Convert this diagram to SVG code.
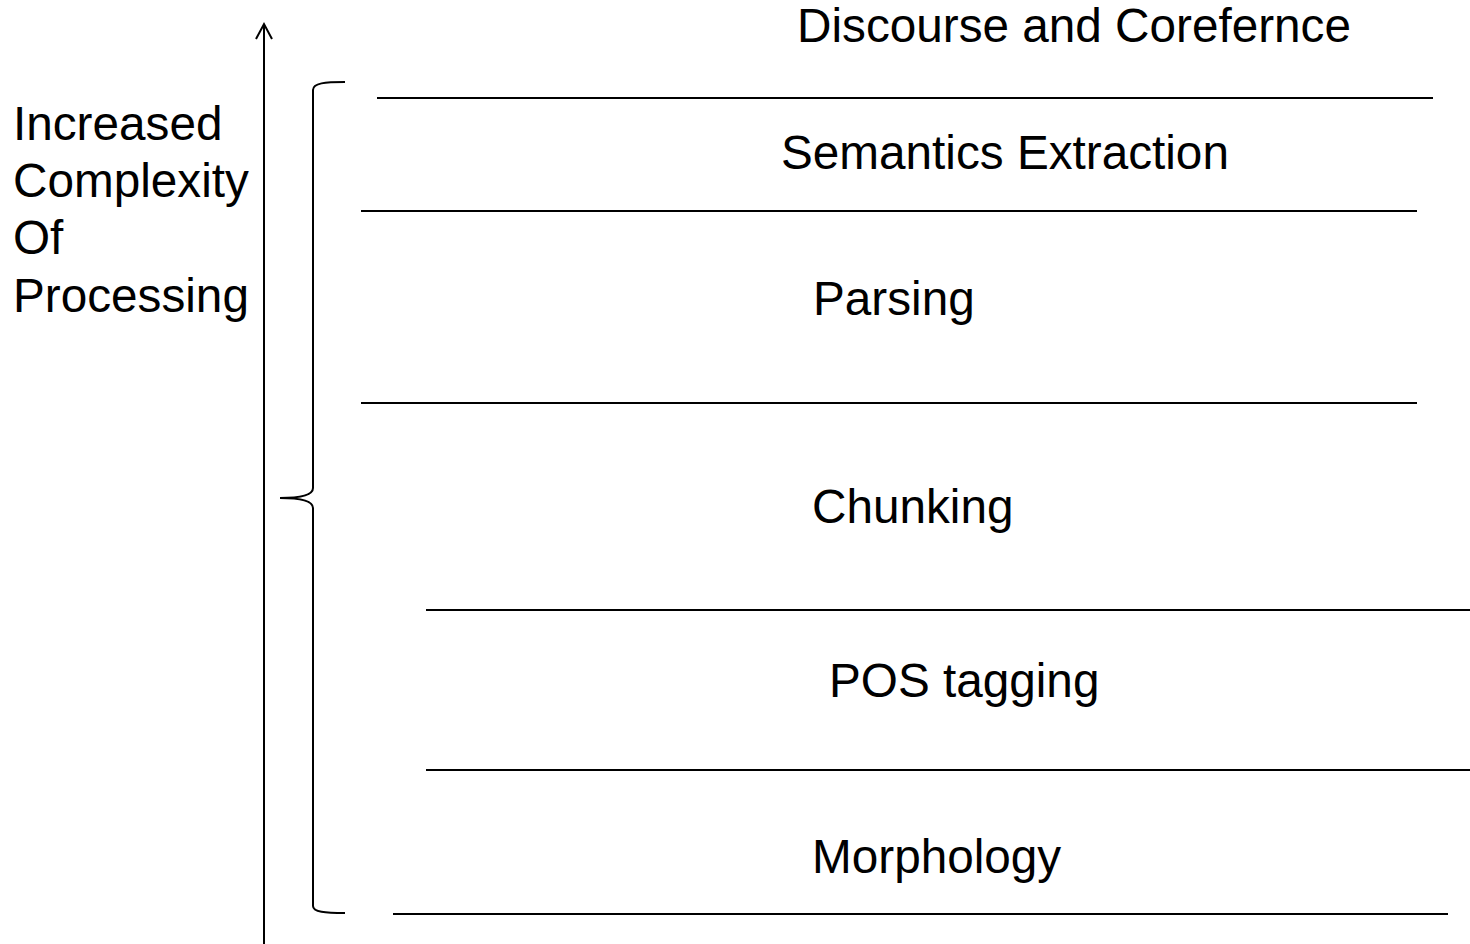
<svg xmlns="http://www.w3.org/2000/svg" width="1470" height="944" viewBox="0 0 1470 944">
<style>
text { font-family: "Liberation Sans", Arial, sans-serif; font-size: 47.7px; fill: #000; }
.ln { stroke: #000; stroke-width: 2; fill: none; }
</style>
<rect width="1470" height="944" fill="#fff"/>
<g id="axis">
<line class="ln" x1="264" y1="944" x2="264" y2="24"/>
<polyline class="ln" points="256,39 264,24 272,39"/>
<text x="13" y="140">Increased</text>
<text x="13" y="197">Complexity</text>
<text x="13" y="254">Of</text>
<text x="13" y="312">Processing</text>
</g>
<g id="brace">
<path class="ln" d="M345,82 C325,82 313,83 313,90 L313,488 C313,495 300,498 280,498 C300,498 313,501 313,508 L313,906 C313,912 325,913 345,913"/>
</g>
<g id="connectors">
<line class="ln" x1="377" y1="98" x2="1433" y2="98"/>
<line class="ln" x1="361" y1="211" x2="1417" y2="211"/>
<line class="ln" x1="361" y1="403" x2="1417" y2="403"/>
<line class="ln" x1="426" y1="610" x2="1470" y2="610"/>
<line class="ln" x1="426" y1="770" x2="1470" y2="770"/>
<line class="ln" x1="393" y1="914" x2="1448" y2="914"/>
</g>
<g id="discourse"><text x="797" y="42">Discourse and Corefernce</text></g>
<g id="semantics"><text x="781" y="169">Semantics Extraction</text></g>
<g id="parsing"><text x="813" y="315">Parsing</text></g>
<g id="chunking"><text x="812" y="523">Chunking</text></g>
<g id="pos"><text x="829" y="697">POS tagging</text></g>
<g id="morphology"><text x="812" y="873">Morphology</text></g>
</svg>
